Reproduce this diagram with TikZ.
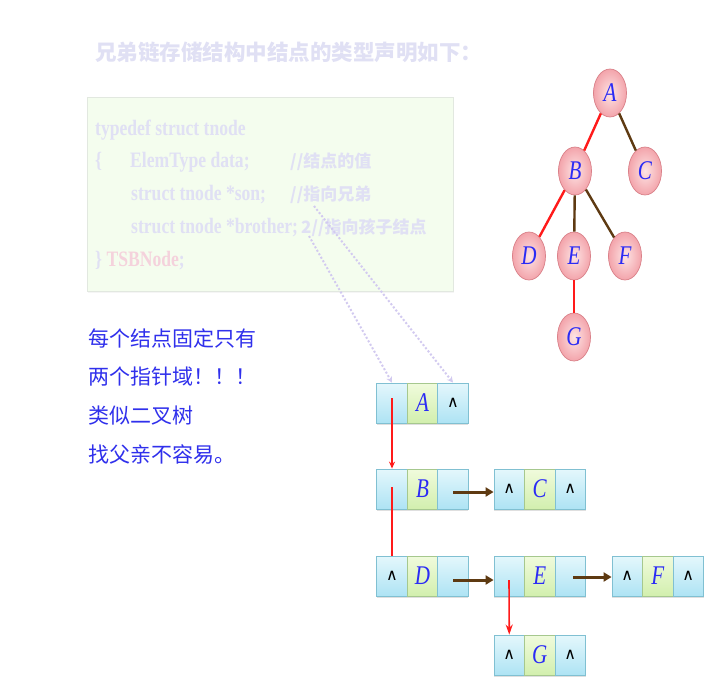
\documentclass[tikz,border=0pt]{standalone}
\usepackage{fontspec}
\setmainfont{Liberation Serif}
\newfontfamily\codefont[FakeStretch=0.8]{Liberation Serif Bold}
\newfontfamily\letterfont[FakeStretch=0.78]{Liberation Serif Italic}
\newfontfamily\cjk{Noto Sans CJK SC}
\newfontfamily\djv{DejaVu Sans}
\usetikzlibrary{shapes.geometric,shadows,arrows.meta}
\definecolor{faded}{HTML}{E0E0F4}
\definecolor{fadedpink}{HTML}{F4D2DC}
\definecolor{boxfill}{HTML}{F4FDEE}
\definecolor{boxline}{HTML}{E2E8E0}
\definecolor{dotc}{HTML}{D2CAF0}
\definecolor{lblue}{HTML}{2B2BF5}
\definecolor{tblue}{HTML}{3030EC}
\definecolor{redline}{HTML}{FF1A1A}
\definecolor{brownline}{HTML}{5E3A12}
\definecolor{ellline}{HTML}{D98088}
\definecolor{ellin}{HTML}{FDE4E4}
\definecolor{ellout}{HTML}{F3A4AB}
\definecolor{cellline}{HTML}{80C0D2}
\definecolor{celltop}{HTML}{E4F7FC}
\definecolor{cellbot}{HTML}{AEE3F4}
\definecolor{midline}{HTML}{A6C88E}
\definecolor{midtop}{HTML}{F0FBDC}
\definecolor{midbot}{HTML}{D2EFAE}
\tikzset{
  titletext/.style={font=\cjk\bfseries\fontsize{21.5}{21.5}\selectfont, text=faded, anchor=base west, inner sep=0},
  codetext/.style={font=\codefont\fontsize{22}{22}\selectfont, text=faded, anchor=base west, inner sep=0},
  codecjk/.style={font=\cjk\bfseries\fontsize{17}{17}\selectfont, text=faded, anchor=base west, inner sep=0},
  lefttext/.style={font=\cjk\fontsize{21}{21}\selectfont, text=tblue, anchor=base west, inner sep=0},
  treenode/.style={ellipse, draw=ellline, line width=0.7pt, inner color=ellin, outer color=ellout,
     minimum width=33pt, minimum height=48pt, inner sep=0,
     font=\letterfont\fontsize{27}{27}\selectfont, text=lblue},
  sidecell/.style={rectangle, draw=cellline, line width=0.8pt, top color=celltop, bottom color=cellbot,
     minimum width=30.5pt, minimum height=40pt, inner sep=0, font=\djv\fontsize{16}{16}\selectfont,
     drop shadow={shadow xshift=0pt, shadow yshift=-2pt, opacity=0.25}},
  midcell/.style={rectangle, draw=midline, line width=0.8pt, top color=midtop, bottom color=midbot,
     minimum width=30.5pt, minimum height=40pt, inner sep=0,
     font=\letterfont\fontsize{27}{27}\selectfont, text=lblue,
     drop shadow={shadow xshift=0pt, shadow yshift=-2pt, opacity=0.25}},
  redarrow/.style={draw=redline, line width=1.6pt},
  brownarrow/.style={draw=brownline, line width=3pt, -{Triangle[length=8pt,width=9pt]}},
  treeedge/.style={line width=2.4pt},
  dotarrow/.style={draw=dotc, dotted, line width=2pt, -{Stealth[length=6pt,width=6pt]}}
}
\newcommand\listnode[6]{%
  \node[sidecell] (#1l) at (#2+15.25,#3) {#4};
  \node[midcell] (#1m) at (#2+45.75,#3) {#5};
  \node[sidecell] (#1r) at (#2+76.25,#3) {#6};
}
\begin{document}
\begin{tikzpicture}[x=1pt,y=-1pt]
\useasboundingbox[fill=white] (0,0) rectangle (708,690);
% title
\node[titletext] (title) at (95,61) {兄弟链存储结构中结点的类型声明如下：};
% code box
\node[rectangle, draw=boxline, line width=0.8pt, fill=boxfill, minimum width=366pt, minimum height=194pt, inner sep=0,
  drop shadow={shadow xshift=0pt, shadow yshift=-2pt, opacity=0.08}] (codebox) at (270.5,194) {};
\node[codetext] (c1) at (95,135) {typedef struct tnode};
\node[codetext] (c2a) at (95,167) {\{};
\node[codetext] (c2b) at (130,167) {ElemType data;};
\node[codecjk] (c2c) at (290,167) {//结点的值};
\node[codetext] (c3a) at (131,200) {struct tnode *son;};
\node[codecjk] (c3b) at (290,200) {//指向兄弟};
\node[codetext] (c4a) at (131,233) {struct tnode *brother;};
\node[codecjk] (c4b) at (301,233) {2//指向孩子结点};
\node[codetext] (c5) at (95,266) {\} \textcolor{fadedpink}{TSBNode};};
% left text
\node[lefttext] (t1) at (88,346) {每个结点固定只有};
\node[lefttext] (t2) at (88,384) {两个指针域！！！};
\node[lefttext] (t3) at (88,423) {类似二叉树};
\node[lefttext] (t4) at (88,462) {找父亲不容易。};
% tree
\node[treenode] (A) at (610,93) {A};
\node[treenode] (B) at (575,171) {B};
\node[treenode] (C) at (645,171) {C};
\node[treenode] (D) at (529,256) {D};
\node[treenode] (E) at (574,256) {E};
\node[treenode] (F) at (625,256) {F};
\node[treenode] (G) at (574,337) {G};
\draw[treeedge, redline] (A) -- (B);
\draw[treeedge, brownline] (A) -- (C);
\draw[treeedge, redline] (B) -- (D);
\draw[treeedge, brownline] (B) -- (E);
\draw[treeedge, brownline] (B) -- (F);
\draw[treeedge, redline] (E) -- (G);
% linked nodes
\listnode{LA}{376.75}{403}{}{A}{∧}
\listnode{LB}{376.75}{489}{}{B}{}
\listnode{LC}{494}{489}{∧}{C}{∧}
\listnode{LD}{376.75}{576}{∧}{D}{}
\listnode{LE}{494}{576}{}{E}{}
\listnode{LF}{612}{576}{∧}{F}{∧}
\listnode{LG}{494}{655}{∧}{G}{∧}
% dotted pointers from code
\coordinate (p1) at (309,236);
\coordinate (p2) at (314,206);
\draw[dotarrow] (p1) -- (LAl.north);
\draw[dotarrow] (p2) -- (LAr.north);
% list connectors
\coordinate (a1) at (392,398);
\coordinate (b1) at (392,487);
\coordinate (e1) at (509,580);
\draw[redarrow, -{Stealth[length=7pt,width=6pt]}] (a1) -- (LBl.north);
\draw[redarrow] (b1) -- (LDl.north);
\draw[redarrow, -{Stealth[length=10pt,width=7pt]}] (e1) -- (LGl.north);
\coordinate (b2) at (453,492);
\coordinate (d2) at (453,580);
\coordinate (e2) at (573,577);
\draw[brownarrow] (b2) -- (LCl.west |- b2);
\draw[brownarrow] (d2) -- (LEl.west |- d2);
\draw[brownarrow] (e2) -- (LFl.west |- e2);
\end{tikzpicture}
\end{document}
